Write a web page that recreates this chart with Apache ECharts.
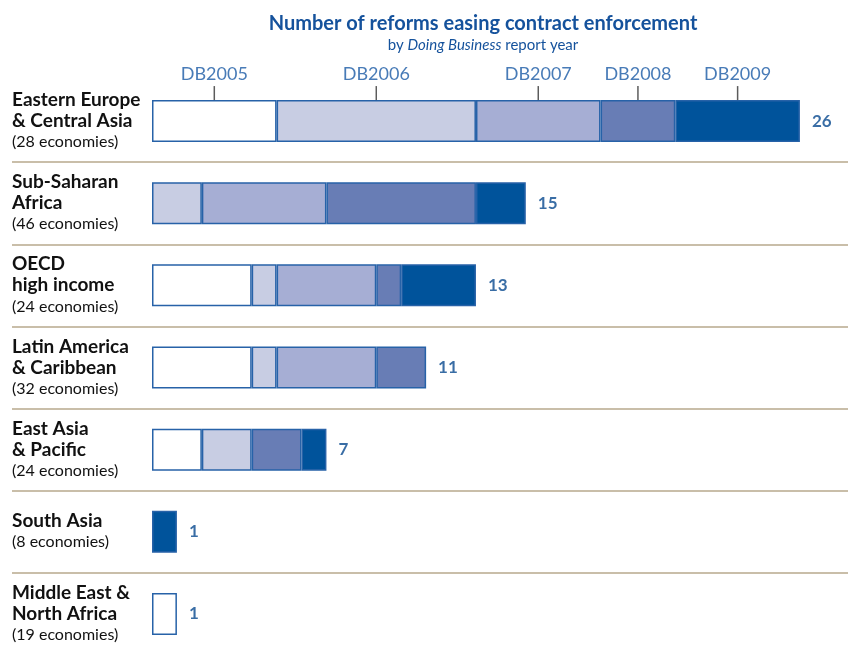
<!DOCTYPE html>
<html>
<head>
<meta charset="utf-8">
<script src="https://cdn.jsdelivr.net/npm/echarts@6/dist/echarts.min.js"></script>
<style>html,body{margin:0;padding:0;background:#fff}#c{width:848px;height:649px}</style>
</head>
<body>
<div id="c"></div>
<script>
const categories = ['Eastern Europe\n& Central Asia', 'Sub-Saharan\nAfrica', 'OECD\nhigh income', 'Latin America\n& Caribbean', 'East Asia\n& Pacific', 'South Asia', 'Middle East &\nNorth Africa'];
const economies = ['(28 economies)', '(46 economies)', '(24 economies)', '(32 economies)', '(24 economies)', '(8 economies)', '(19 economies)'];
const seriesNames = ['DB2005', 'DB2006', 'DB2007', 'DB2008', 'DB2009'];
const db2005 = [5, 0, 4, 4, 2, 0, 1];
const db2006 = [8, 2, 1, 1, 2, 0, 0];
const db2007 = [5, 5, 4, 4, 0, 0, 0];
const db2008 = [3, 6, 1, 2, 2, 0, 0];
const db2009 = [5, 2, 3, 0, 1, 1, 0];
const colors = ['#ffffff', '#c8cde3', '#a6aed4', '#687db5', '#00539b'];

const values = [db2005, db2006, db2007, db2008, db2009];
const totals = categories.map((_, i) => values.reduce((s, arr) => s + arr[i], 0));
let cum = 0;
const headerMids = values.map(arr => { const m = cum + arr[0] / 2; cum += arr[0]; return m; });

const FONT = "Lato, sans-serif";
const BLUE = '#15529c';

const barSeries = values.map((arr, k) => ({
  type: 'bar', name: seriesNames[k], stack: 'total', barWidth: 42,
  xAxisIndex: 0, yAxisIndex: 0,
  itemStyle: { color: colors[k], borderColor: '#2762a8', borderWidth: 1.5 },
  data: arr.map(v => v === 0 ? '-' : v),
  z: 2
}));

const chart = echarts.init(document.getElementById('c'), null, { renderer: 'canvas' });
chart.setOption({
  animation: false,
  title: {
    text: 'Number of reforms easing contract enforcement',
    subtext: '{a|by }{i|Doing Business}{a| report year}',
    left: 478, textAlign: 'center', top: 9, itemGap: 4,
    textStyle: { fontFamily: FONT, fontWeight: 'bold', fontSize: 20, color: BLUE },
    subtextStyle: {
      fontFamily: FONT, fontSize: 15, color: BLUE,
      rich: {
        a: { fontFamily: FONT, fontSize: 15, color: BLUE },
        i: { fontFamily: FONT, fontSize: 15, color: BLUE, fontStyle: 'italic' }
      }
    }
  },
  grid: [
    { left: 152, top: 80, width: 747.6, height: 575, outerBoundsMode: 'none', containLabel: false },
    { left: 12, right: 0, top: 80, height: 575, outerBoundsMode: 'none', containLabel: false }
  ],
  xAxis: [
    { type: 'value', gridIndex: 0, min: 0, max: 30, show: false },
    { type: 'value', gridIndex: 1, min: 0, max: 1, show: false }
  ],
  yAxis: [
    {
      type: 'category', gridIndex: 0, data: categories, inverse: true,
      axisLine: { show: false }, axisTick: { show: false }, splitLine: { show: false },
      axisLabel: {
        margin: 140, align: 'left',
        formatter: (v, i) => v.split('\n').map(s => '{b|' + s + '}').join('\n') + '\n{r|' + economies[i] + '}',
        rich: {
          b: { fontFamily: FONT, fontWeight: 'bold', fontSize: 19, color: '#111', lineHeight: 21 },
          r: { fontFamily: FONT, fontSize: 16, color: '#111', lineHeight: 21 }
        }
      }
    },
    {
      type: 'value', gridIndex: 1, min: 0, max: 7, interval: 1, inverse: true,
      axisLine: { show: false }, axisTick: { show: false }, axisLabel: { show: false },
      splitLine: { show: true, showMinLine: false, showMaxLine: false, lineStyle: { color: '#c9bea9', width: 2 } }
    }
  ],
  series: barSeries.concat([
    {
      type: 'scatter', xAxisIndex: 0, yAxisIndex: 0, z: 5,
      symbol: 'rect', symbolSize: [1.5, 14], symbolOffset: [0, -28],
      itemStyle: { color: '#333' },
      label: { show: true, position: 'top', distance: 3, formatter: '{b}', fontFamily: FONT, fontSize: 18, color: '#1a5aa5' },
      data: seriesNames.map((n, k) => ({ name: n, value: [headerMids[k], categories[0]] }))
    },
    {
      type: 'scatter', xAxisIndex: 0, yAxisIndex: 0, z: 5, symbolSize: 0,
      label: { show: true, position: 'right', distance: 12, formatter: p => p.value[0], fontFamily: FONT, fontWeight: 'bold', fontSize: 17, color: '#08498f' },
      data: totals.map((t, i) => [t, categories[i]])
    }
  ])
});
</script>
</body>
</html>
